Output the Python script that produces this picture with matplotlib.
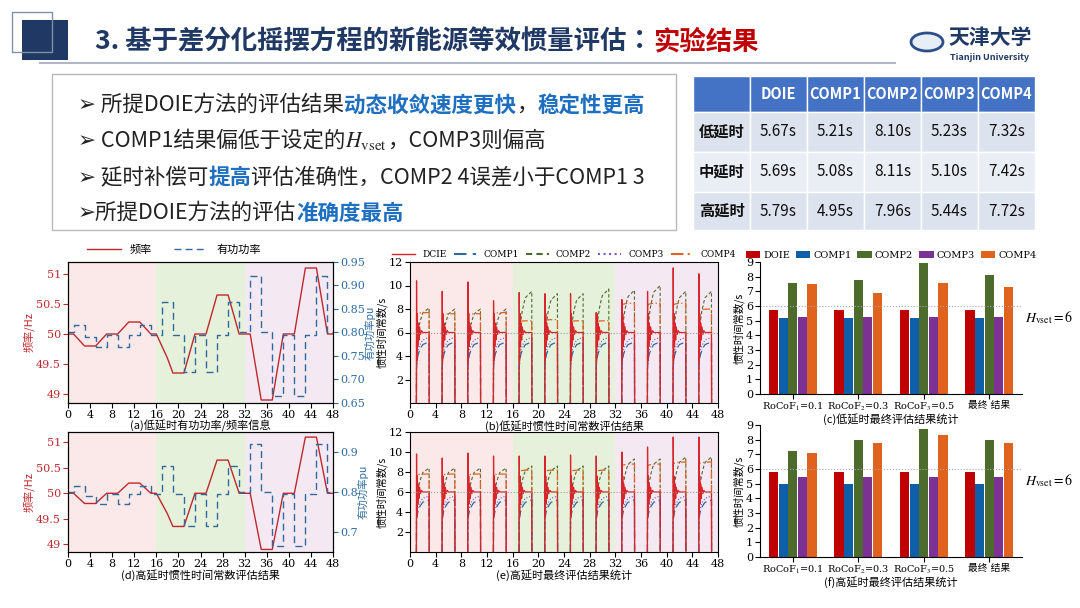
import matplotlib
matplotlib.use("Agg")
import matplotlib.pyplot as plt
from matplotlib.patches import Rectangle, Circle
import numpy as np

CJK = "Noto Sans CJK JP"
plt.rcParams["font.family"] = [CJK, "DejaVu Sans"]
plt.rcParams["mathtext.fontset"] = "stix"

# ---- data ----
methods = ["DOIE", "COMP1", "COMP2", "COMP3", "COMP4"]
rows = ["低延时", "中延时", "高延时"]
table_vals = [["5.67s", "5.21s", "8.10s", "5.23s", "7.32s"],
              ["5.69s", "5.08s", "8.11s", "5.10s", "7.42s"],
              ["5.79s", "4.95s", "7.96s", "5.44s", "7.72s"]]

freq_t = [0, 1, 3, 5, 7, 9, 11, 13, 15, 16, 18, 19, 21, 23, 25, 27, 29, 31, 32, 33, 35, 37, 39, 41, 43, 45, 47, 48]
freq_v = [50, 50, 49.8, 49.8, 50, 50, 50.2, 50.2, 50, 50, 49.6, 49.35, 49.35, 50, 50, 50.65, 50.65, 50, 50, 50,
          48.9, 48.9, 50, 50, 51.1, 51.1, 50, 50]
pow_t = [0, 1, 3, 5, 7, 9, 11, 13, 15, 17, 19, 21, 23, 25, 27, 29, 31, 33, 35, 37, 39, 41, 43, 45, 47, 48]
pow_v = [0.8, 0.815, 0.79, 0.77, 0.795, 0.77, 0.795, 0.815, 0.795, 0.865, 0.795, 0.715, 0.795, 0.715, 0.795,
         0.865, 0.8, 0.92, 0.8, 0.665, 0.795, 0.665, 0.795, 0.92, 0.8, 0.8]

event_start = [1, 5, 9, 13, 17, 21, 25, 29, 33, 37, 41, 45]
doie_peak_b = [10.4, 9.5, 10.3, 8.7, 9.4, 9.3, 9.3, 7.7, 8.8, 9.5, 11.5, 11.0]
comp2_end_b = [8.1, 8.0, 8.0, 8.0, 9.5, 9.3, 9.3, 9.7, 9.6, 10.0, 9.5, 9.5]
comp4_end_b = [7.7, 7.6, 7.6, 7.7, 7.0, 7.1, 7.0, 7.0, 8.5, 8.5, 8.5, 8.0]
doie_peak_e = [9.8, 9.4, 9.9, 9.6, 9.6, 9.6, 9.7, 9.6, 10.0, 10.5, 11.5, 11.5]
comp2_end_e = [8.4, 8.4, 8.4, 8.4, 8.6, 8.6, 8.6, 8.6, 9.3, 9.3, 9.5, 9.5]
comp4_end_e = [7.8, 7.8, 7.8, 7.8, 8.2, 8.2, 8.2, 8.2, 8.8, 8.8, 9.0, 9.0]
# relative response shape within one event (time offsets in s)
shape_dt = [0, 0.02, 0.08, 0.15, 0.22, 0.3, 0.4, 0.5, 0.65, 0.8, 1.0, 1.98, 2.0]
doie_shape = [0, 1.0, 0.3, 0.8, 0.45, 0.7, 0.52, 0.66, 0.58, 0.62, 0.6, 0.6, 0]
comp_shape = [0, 0.3, 0.45, 0.55, 0.62, 0.68, 0.73, 0.78, 0.83, 0.88, 0.93, 1.0, 0]

cats = ["RoCoF$_1$=0.1", "RoCoF$_2$=0.3", "RoCoF$_3$=0.5", "最终 结果"]
bars_c = {"DOIE": [5.7, 5.7, 5.7, 5.7], "COMP1": [5.2, 5.2, 5.2, 5.2], "COMP2": [7.6, 7.8, 8.9, 8.1],
          "COMP3": [5.25, 5.25, 5.25, 5.25], "COMP4": [7.5, 6.9, 7.55, 7.3]}
bars_f = {"DOIE": [5.8, 5.8, 5.8, 5.8], "COMP1": [4.95, 4.95, 4.95, 4.95], "COMP2": [7.25, 7.95, 8.75, 8.0],
          "COMP3": [5.45, 5.45, 5.45, 5.45], "COMP4": [7.1, 7.75, 8.35, 7.75]}
bar_colors = ["#c00000", "#0f5fa8", "#4e6b2e", "#7b3294", "#e0621f"]

fig = plt.figure(figsize=(10.8, 6.08), dpi=100)
W, H = 1080, 608

def box(x, y, w, h):
    return [x / W, 1 - (y + h) / H, w / W, h / H]

def chain(x, y, segs, **kw):
    # draw text segments one after another
    last = None
    for s, c, bold in segs:
        fw = "bold" if bold else "normal"
        if last is None:
            last = fig.text(x / W, 1 - y / H, s, color=c, fontweight=fw, va="center", **kw)
        else:
            last = fig.add_artist(plt.Annotation(s, xy=(1, 0.5), xycoords=last, va="center", ha="left",
                                                 color=c, fontweight=fw, **kw))

# ---- header ----
fig.patches.append(Rectangle((22 / W, 1 - 60 / H), 46 / W, 40 / H, transform=fig.transFigure,
                             facecolor="#1f3864", edgecolor="none"))
fig.patches.append(Rectangle((12 / W, 1 - 52 / H), 40 / W, 40 / H, transform=fig.transFigure,
                             facecolor="none", edgecolor="#8090a8", lw=1))
fig.lines.append(plt.Line2D([40 / W, 895 / W], [1 - 63 / H] * 2, transform=fig.transFigure, color="#b0b8c8", lw=1.5))
chain(95, 42, [("3. 基于差分化摇摆方程的新能源等效惯量评估：", "#1f3864", True), ("实验结果", "#c00000", True)],
      fontsize=19)
fig.patches.append(Circle((927 / W, 1 - 42 / H), 16 / W, transform=fig.transFigure, facecolor="#e8eef6",
                          edgecolor="#2c4f8a", lw=2))
fig.text(990 / W, 1 - 38 / H, "天津大学", fontsize=15, fontweight="bold", color="#1f3864", ha="center", va="center")
fig.text(990 / W, 1 - 57 / H, "Tianjin University", fontsize=6.5, fontweight="bold", color="#1f3864",
         ha="center", va="center")

# ---- bullet box ----
fig.patches.append(Rectangle((52 / W, 1 - 230 / H), 624 / W, 156 / H, transform=fig.transFigure,
                             facecolor="white", edgecolor="#b8b8b8", lw=1))
K, B = "#222222", "#1f6fc0"
bullets = [
    [("➢ 所提DOIE方法的评估结果", K, False), ("动态收敛速度更快", B, True), ("，", K, False), ("稳定性更高", B, True)],
    [("➢ COMP1结果偏低于设定的", K, False), ("$H_{\\rm vset}$", K, False), ("，COMP3则偏高", K, False)],
    [("➢ 延时补偿可", K, False), ("提高", B, True), ("评估准确性，COMP2 4误差小于COMP1 3", K, False)],
    [("➢所提DOIE方法的评估", K, False), ("准确度最高", B, True)],
]
for i, segs in enumerate(bullets):
    chain(78, 105 + i * 36, segs, fontsize=15.5)

# ---- table ----
col_x = [693, 750, 807, 864, 921, 978, 1035]
row_y = [76, 112, 152, 192, 230]
for r in range(4):
    for c in range(6):
        fc = "#4472c4" if r == 0 else ("#dde3ee" if r % 2 == 1 else "#e9edf4")
        fig.patches.append(Rectangle((col_x[c] / W, 1 - row_y[r + 1] / H), (col_x[c + 1] - col_x[c]) / W,
                                     (row_y[r + 1] - row_y[r]) / H, transform=fig.transFigure,
                                     facecolor=fc, edgecolor="white", lw=1))
        cx = (col_x[c] + col_x[c + 1]) / 2 / W
        cy = 1 - (row_y[r] + row_y[r + 1]) / 2 / H
        if r == 0 and c > 0:
            fig.text(cx, cy, methods[c - 1], color="white", fontsize=10.5, fontweight="bold", ha="center", va="center")
        elif r > 0 and c == 0:
            fig.text(cx, cy, rows[r - 1], color="#111111", fontsize=11, fontweight="bold", ha="center", va="center")
        elif r > 0:
            fig.text(cx, cy, table_vals[r - 1][c - 1], color="#111111", fontsize=11, ha="center", va="center")

def shade(ax):
    ax.axvspan(0, 16, color="#fbe9e9", lw=0)
    ax.axvspan(16, 32, color="#e5f1da", lw=0)
    ax.axvspan(32, 48, color="#f4e9f3", lw=0)

tick_kw = dict(labelsize=8, labelfontfamily="DejaVu Serif", pad=1.5)

def freq_panel(rect, caption, legend):
    ax = fig.add_axes(rect)
    shade(ax)
    l1, = ax.plot(freq_t, freq_v, color="#c0282d", lw=1)
    ax.set_xlim(0, 48)
    ax.set_ylim(48.85, 51.2)
    ax.set_xticks(range(0, 49, 4))
    ax.set_yticks([49, 49.5, 50, 50.5, 51])
    ax.set_yticklabels(["49", "49.5", "50", "50.5", "51"])
    ax.tick_params(axis="y", colors="#c0282d", **tick_kw)
    ax.tick_params(axis="x", **tick_kw)
    ax.set_ylabel("频率/Hz", color="#c0282d", fontsize=8, labelpad=1)
    ax2 = ax.twinx()
    l2, = ax2.plot(pow_t, pow_v, color="#2e6a9e", lw=1, ls=(0, (5, 3)), drawstyle="steps-post")
    ax2.set_ylim(0.65, 0.95)
    ax2.tick_params(axis="y", colors="#2e6a9e", **tick_kw)
    ax2.set_ylabel("有功功率pu", color="#2e6a9e", fontsize=7.5, labelpad=0)
    ax.set_xlabel(caption, fontsize=8, labelpad=0)
    if legend:
        ax.legend([l1, l2], ["频率", "有功功率"], ncol=2, loc="lower center", bbox_to_anchor=(0.4, 1.0),
                  frameon=False, fontsize=8, handlelength=3, borderpad=0.1)

def inertia_panel(rect, caption, peaks, c2, c4, legend):
    ax = fig.add_axes(rect)
    shade(ax)
    for k, t0 in enumerate(event_start):
        tt = [t0 + d for d in shape_dt]
        ax.plot(tt, [0] + [2 + (c2[k] - 2) * s for s in comp_shape[1:-1]] + [0], color="#4e6b2e", lw=0.8, ls=(0, (3, 2)))
        ax.plot(tt, [0] + [6 + (c4[k] - 6) * (0.9 + 0.1 * s) for s in comp_shape[1:-1]] + [0], color="#e0621f",
                lw=0.9, ls=(0, (6, 2, 1, 2)))
        ax.plot(tt, [0] + [2 + 3.2 * s for s in comp_shape[1:-1]] + [0], color="#2e6a9e", lw=0.9, ls=(0, (6, 3)))
        ax.plot(tt, [0] + [2.3 + 3.3 * s for s in comp_shape[1:-1]] + [0], color="#6a5acd", lw=0.8, ls=":")
        ax.plot(tt, [0 if s == 0 else (peaks[k] if s == 1.0 else 6 + (s - 0.6) * 8) for s in doie_shape],
                color="#d7262b", lw=0.9)
    ax.axhline(6, color="#999999", ls=":", lw=0.8)
    ax.set_xlim(0, 48)
    ax.set_ylim(0, 12)
    ax.set_xticks(range(0, 49, 4))
    ax.set_yticks([2, 4, 6, 8, 10, 12])
    ax.tick_params(**tick_kw)
    ax.set_ylabel("惯性时间常数/s", fontsize=7.5, labelpad=1)
    ax.set_xlabel(caption, fontsize=8, labelpad=0)
    if legend:
        hs = [plt.Line2D([], [], color="#d7262b", lw=1), plt.Line2D([], [], color="#2e6a9e", ls=(0, (6, 3))),
              plt.Line2D([], [], color="#4e6b2e", ls=(0, (3, 2))), plt.Line2D([], [], color="#6a5acd", ls=":"),
              plt.Line2D([], [], color="#e0621f", ls=(0, (6, 2, 1, 2)))]
        ax.legend(hs, ["DCIE", "COMP1", "COMP2", "COMP3", "COMP4"], ncol=5, loc="lower center",
                  bbox_to_anchor=(0.5, 0.98), frameon=False, prop={"family": "DejaVu Serif", "size": 6.5},
                  handlelength=2.5, columnspacing=0.8, borderpad=0.1)

def bar_panel(rect, caption, data, legend):
    ax = fig.add_axes(rect)
    x = np.arange(len(cats))
    w = 0.14
    for i, m in enumerate(methods):
        ax.bar(x + (i - 2) * w * 1.05, data[m], w, color=bar_colors[i], label=m)
    ax.axhline(6, color="#aaaaaa", ls=":", lw=0.8)
    ax.set_ylim(0, 9)
    ax.set_xlim(-0.5, 3.5)
    ax.set_yticks(range(10))
    ax.set_xticks(x)
    ax.set_xticklabels(cats)
    ax.tick_params(axis="y", **tick_kw)
    ax.tick_params(axis="x", labelsize=7, pad=1.5)
    for lab in ax.get_xticklabels():
        lab.set_fontfamily(["DejaVu Serif", CJK])
    for s in ["top", "right"]:
        ax.spines[s].set_visible(False)
    ax.set_ylabel("惯性时间常数/s", fontsize=7.5, labelpad=1)
    ax.set_xlabel(caption, fontsize=8, labelpad=0)
    ax.text(3.55, 5.2, "$H_{\\rm vset}=6$", fontsize=10, va="center")
    if legend:
        ax.legend(ncol=5, loc="lower center", bbox_to_anchor=(0.5, 0.97), frameon=False,
                  prop={"family": "DejaVu Serif", "size": 7}, handlelength=1.5, columnspacing=0.6,
                  handletextpad=0.3, borderpad=0.1)

freq_panel(box(68, 262, 265, 141), "(a)低延时有功功率/频率信息", True)
freq_panel(box(68, 432, 265, 120), "(d)高延时惯性时间常数评估结果", False)
inertia_panel(box(410, 262, 308, 141), "(b)低延时惯性时间常数评估结果", doie_peak_b, comp2_end_b, comp4_end_b, True)
inertia_panel(box(410, 432, 308, 120), "(e)高延时最终评估结果统计", doie_peak_e, comp2_end_e, comp4_end_e, False)
bar_panel(box(760, 262, 262, 132), "(c)低延时最终评估结果统计", bars_c, True)
bar_panel(box(760, 425, 262, 132), "(f)高延时最终评估结果统计", bars_f, False)

fig.savefig("out.png", dpi=100, facecolor="white")
